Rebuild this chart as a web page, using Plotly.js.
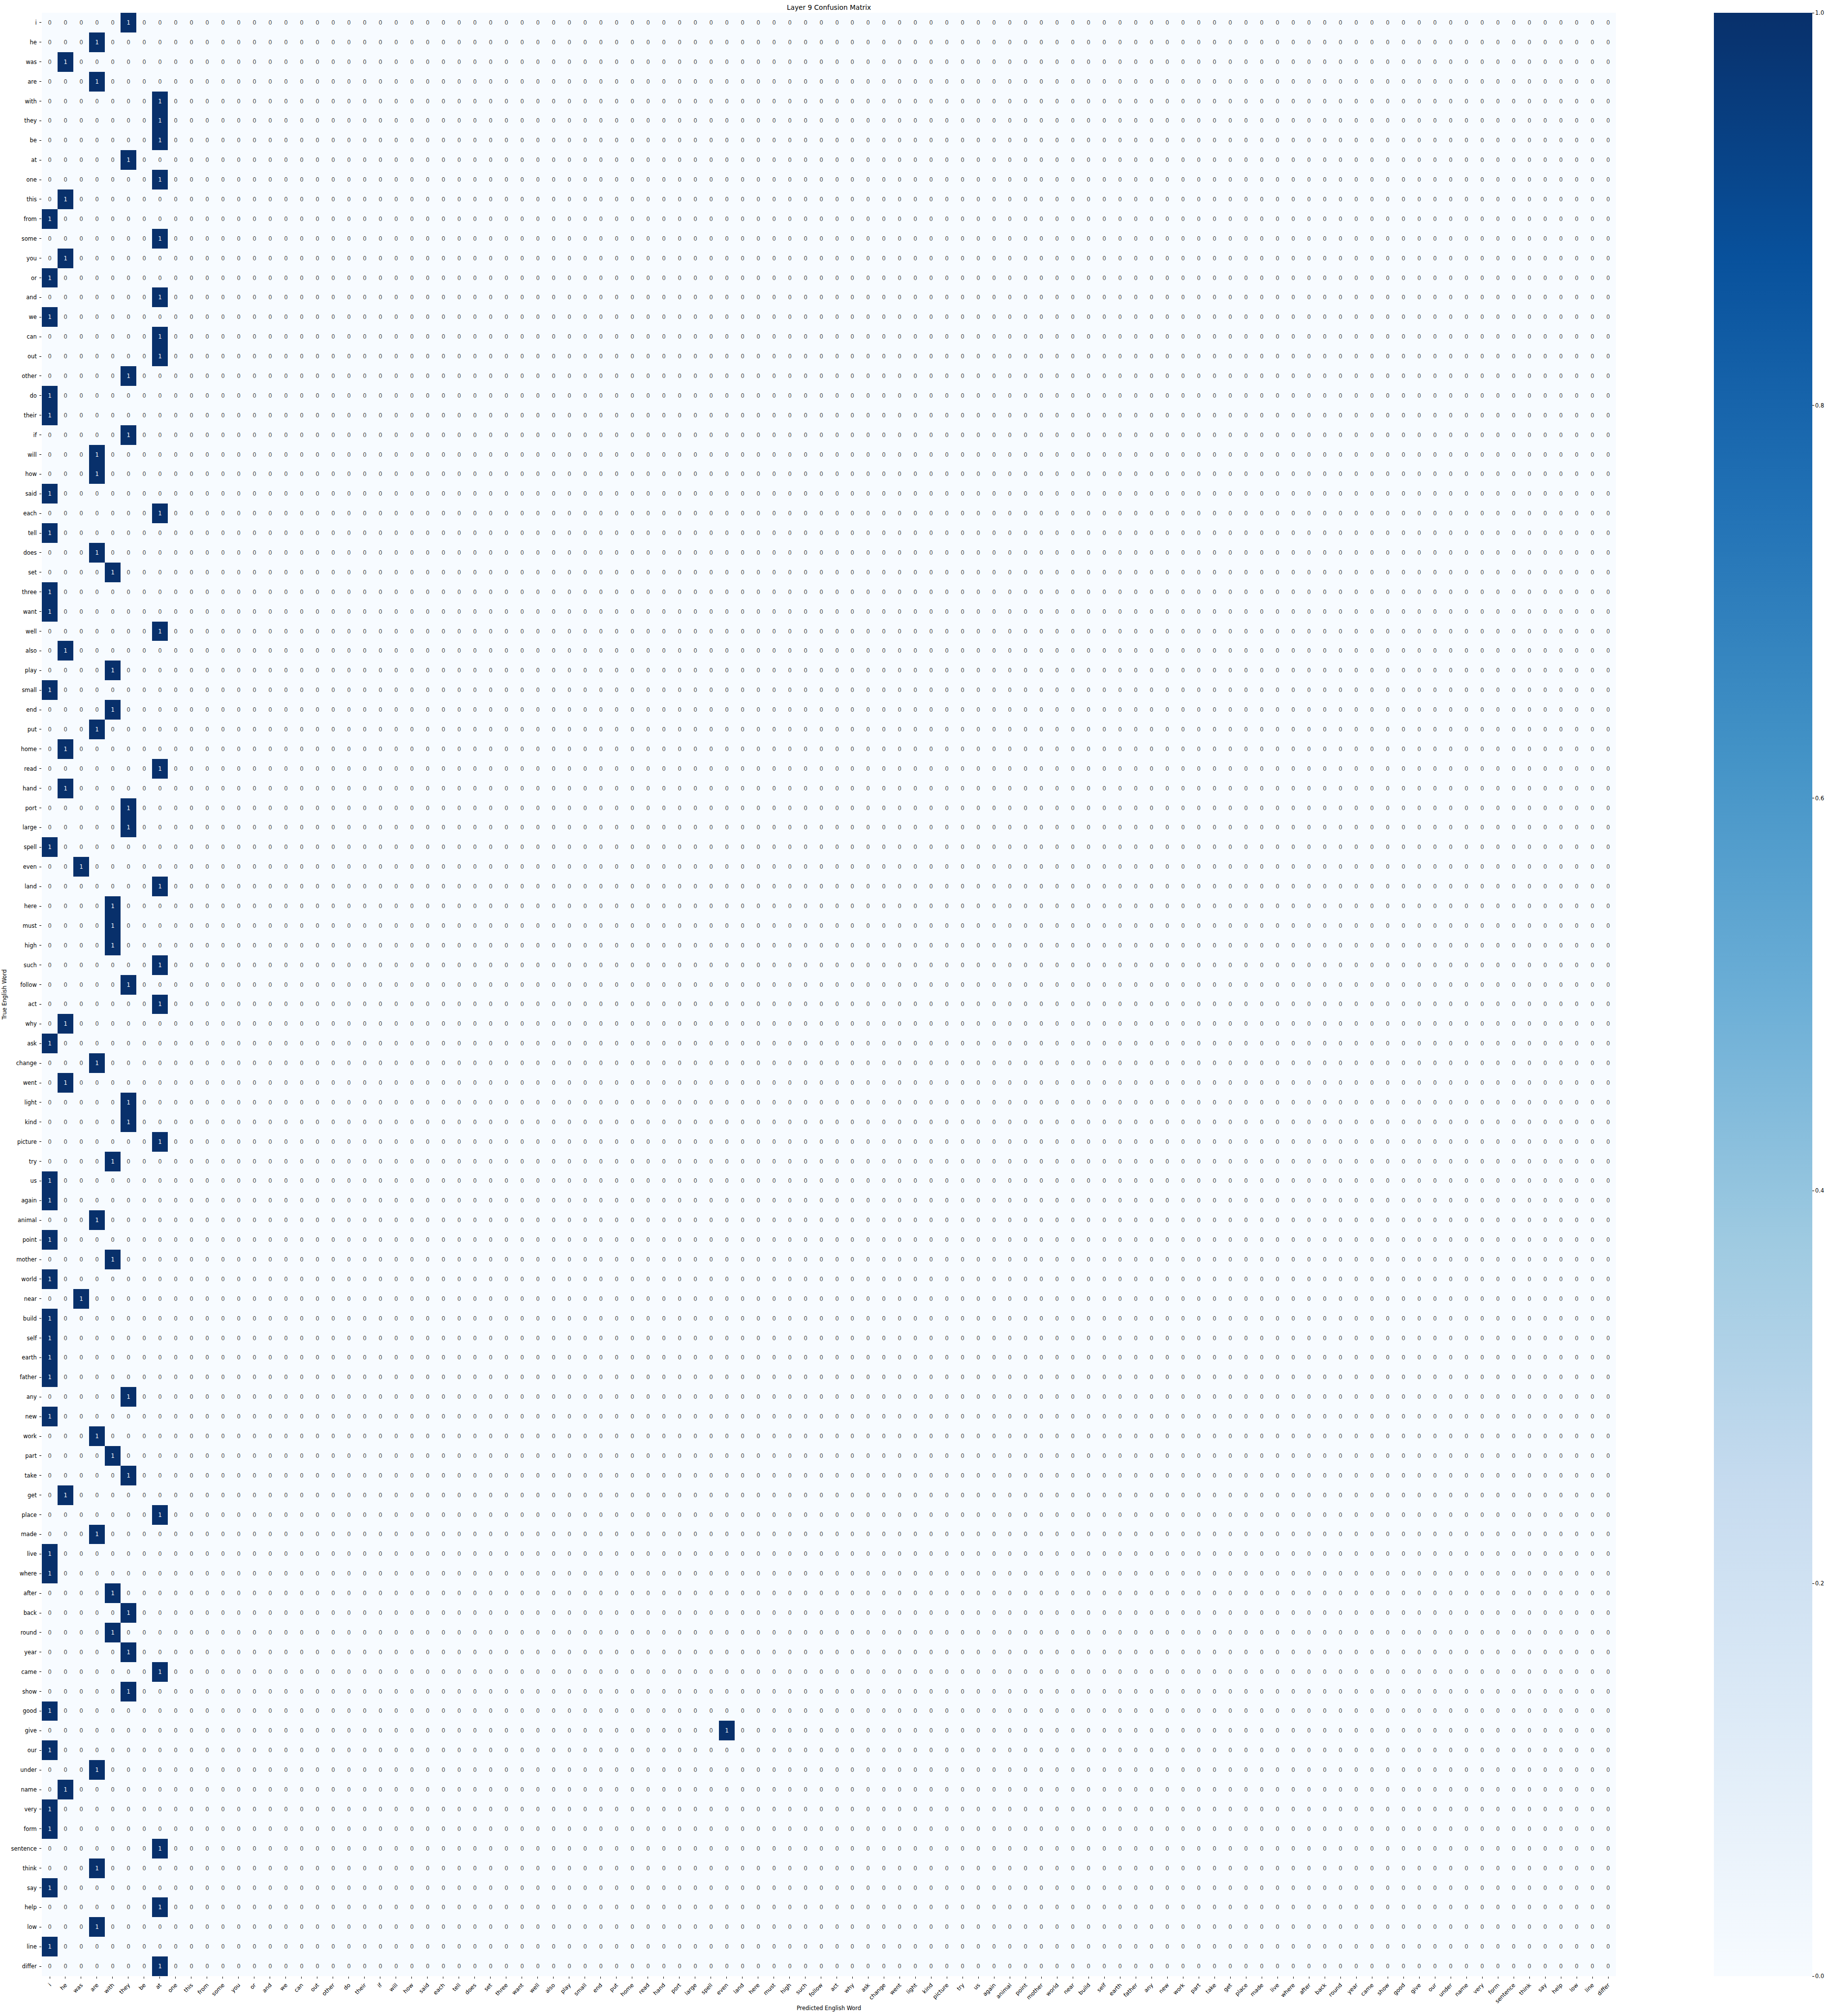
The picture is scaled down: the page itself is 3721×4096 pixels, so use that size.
<!DOCTYPE html>
<html>
<head>
<meta charset="utf-8">
<script src="https://cdn.plot.ly/plotly-3.0.1.min.js"></script>
<style>
  html, body { margin: 0; padding: 0; background: #ffffff; }
  #chart { width: 3721px; height: 4096px; }
</style>
</head>
<body>
<div id="chart"></div>
<script>
// True words (rows, top to bottom) and predicted words (columns, left to right)
const trueWords = ["i","he","was","are","with","they","be","at","one","this","from","some","you","or","and","we","can","out","other","do","their","if","will","how","said","each","tell","does","set","three","want","well","also","play","small","end","put","home","read","hand","port","large","spell","even","land","here","must","high","such","follow","act","why","ask","change","went","light","kind","picture","try","us","again","animal","point","mother","world","near","build","self","earth","father","any","new","work","part","take","get","place","made","live","where","after","back","round","year","came","show","good","give","our","under","name","very","form","sentence","think","say","help","low","line","differ"];
const predWords = ["i","he","was","are","with","they","be","at","one","this","from","some","you","or","and","we","can","out","other","do","their","if","will","how","said","each","tell","does","set","three","want","well","also","play","small","end","put","home","read","hand","port","large","spell","even","land","here","must","high","such","follow","act","why","ask","change","went","light","kind","picture","try","us","again","animal","point","mother","world","near","build","self","earth","father","any","new","work","part","take","get","place","made","live","where","after","back","round","year","came","show","good","give","our","under","name","very","form","sentence","think","say","help","low","line","differ"];
// Predicted word for each true word (count 1 in that cell)
const predictedFor = ["they","are","he","are","at","at","at","they","at","he","i","at","he","i","at","i","at","at","they","i","i","they","are","are","i","at","i","are","with","i","i","at","he","with","i","with","are","he","at","he","they","they","i","was","at","with","with","with","at","they","at","he","i","are","he","they","they","at","with","i","i","are","i","with","i","was","i","i","i","i","they","i","are","with","they","he","at","are","i","i","with","they","with","they","at","they","i","even","i","are","he","i","i","at","are","i","at","are","i","at"];
const cellCount = 1;
const colorTicks = [0, 0.2, 0.4, 0.6, 0.8, 1.0];

const z = trueWords.map((t, r) => predWords.map(p => (predictedFor[r] === p ? cellCount : 0)));

const blues = [
  [0.000, "#f7fbff"], [0.125, "#deebf7"], [0.250, "#c6dbef"], [0.375, "#9ecae1"],
  [0.500, "#6baed6"], [0.625, "#4292c6"], [0.750, "#2171b5"], [0.875, "#08519c"], [1.000, "#08306b"]
];

const FONT = "DejaVu Sans, Liberation Sans, sans-serif";
const W = 3721, H = 4096;
const ML = 85, MR = 437, MT = 26, MB = 81;
const plotW = W - ML - MR;

const trace = {
  type: "heatmap",
  x: predWords,
  y: trueWords,
  z: z,
  zmin: 0,
  zmax: 1,
  colorscale: blues,
  xgap: 0, ygap: 0,
  texttemplate: "%{z}",
  textfont: { family: FONT, size: 11.4 },
  hoverongaps: false,
  colorbar: {
    x: (3483 - ML) / plotW,
    xanchor: "left",
    xpad: 0, ypad: 0,
    y: 0.5, yanchor: "middle",
    len: 1, lenmode: "fraction",
    thickness: 200, thicknessmode: "pixels",
    outlinewidth: 0,
    ticks: "outside", ticklen: 4, tickwidth: 1, tickcolor: "#000",
    tickvals: colorTicks,
    ticktext: colorTicks.map(v => v.toFixed(1)),
    tickfont: { family: FONT, size: 11.4, color: "#000" }
  }
};

const layout = {
  width: W, height: H,
  margin: { l: ML, r: MR, t: MT, b: MB, pad: 0 },
  paper_bgcolor: "#ffffff",
  plot_bgcolor: "#ffffff",
  font: { family: FONT, size: 11.4, color: "#000" },
  title: {
    text: "Layer 9 Confusion Matrix",
    font: { family: FONT, size: 13.7, color: "#000" },
    x: 0.5, xref: "paper", xanchor: "center",
    y: 1 - 15.6 / H, yref: "container", yanchor: "middle"
  },
  xaxis: {
    type: "category",
    tickangle: -45,
    ticks: "outside", ticklen: 4, tickwidth: 1, tickcolor: "#000",
    ticklabelstandoff: 2,
    tickfont: { family: FONT, size: 11.4, color: "#000" },
    showgrid: false, zeroline: false, showline: false,
    automargin: false,
    title: { text: "Predicted English Word", font: { family: FONT, size: 11.4, color: "#000" }, standoff: 4 }
  },
  yaxis: {
    type: "category",
    autorange: "reversed",
    ticks: "outside", ticklen: 4, tickwidth: 1, tickcolor: "#000",
    ticklabelstandoff: 3,
    tickfont: { family: FONT, size: 11.4, color: "#000" },
    showgrid: false, zeroline: false, showline: false,
    automargin: false,
    title: { text: "True English Word", font: { family: FONT, size: 11.4, color: "#000" }, standoff: 6 }
  }
};

Plotly.newPlot("chart", [trace], layout, { displayModeBar: false, responsive: false });
</script>
</body>
</html>
